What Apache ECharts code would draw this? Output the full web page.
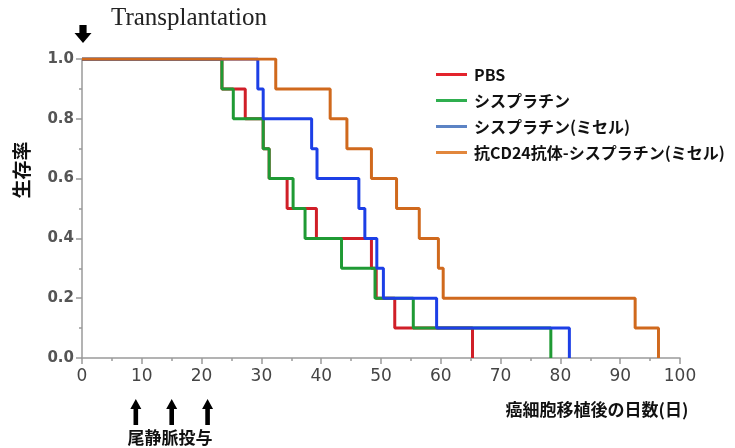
<!DOCTYPE html>
<html>
<head>
<meta charset="utf-8">
<script src="https://cdn.jsdelivr.net/npm/echarts@6/dist/echarts.min.js"></script>
<style>
html, body { margin: 0; padding: 0; background: #fff; }
#chart { width: 735px; height: 448px; }
</style>
</head>
<body>
<div id="chart"></div>
<script>
// Kaplan-Meier steps: [day, survival]
const seriesNames = ['PBS', 'シスプラチン', 'シスプラチン(ミセル)', '抗CD24抗体-シスプラチン(ミセル)'];
const pbsData = [[0, 1], [23.4, 0.9], [27.3, 0.8], [30.3, 0.7], [31.3, 0.6], [34.3, 0.5], [39.2, 0.4], [48.4, 0.3], [49.2, 0.2], [52.3, 0.1], [65.3, 0]];
const cisData = [[0, 1], [23.4, 0.9], [25.3, 0.8], [30.3, 0.7], [31.3, 0.6], [35.3, 0.5], [37.3, 0.4], [43.4, 0.3], [49.0, 0.2], [55.4, 0.1], [78.4, 0]];
const micelleData = [[0, 1], [29.4, 0.9], [30.3, 0.8], [38.4, 0.7], [39.3, 0.6], [46.3, 0.5], [47.3, 0.4], [49.3, 0.3], [50.4, 0.2], [59.3, 0.1], [81.5, 0]];
const cd24Data = [[0, 1], [32.4, 0.9], [41.5, 0.8], [44.3, 0.7], [48.4, 0.6], [52.6, 0.5], [56.4, 0.4], [59.6, 0.3], [60.4, 0.2], [92.5, 0.1], [96.4, 0]];

const lineColors = ['#d01f28', '#1f9a34', '#1c3fe6', '#d0691d'];
const legendColors = ['#e3232c', '#2fae4f', '#5c83c4', '#e2873c'];

const transplantDay = 0;
const injectionDays = [9, 15, 21];

const cjkFont = '"Noto Sans CJK JP", sans-serif';

let chartDom = document.getElementById('chart');
let myChart = echarts.init(chartDom);

let allData = [pbsData, cisData, micelleData, cd24Data];
let series = [];
for (let i = 0; i < seriesNames.length; i++) {
    series.push({
        name: seriesNames[i],
        type: 'line',
        step: 'end',
        data: allData[i],
        showSymbol: false,
        symbol: 'none',
        lineStyle: { width: 3, color: lineColors[i] },
        itemStyle: { color: lineColors[i] }
    });
}

let option = {
    animation: false,
    grid: { left: 82, right: 55, top: 59, bottom: 90 },
    legend: {
        orient: 'vertical',
        left: 431,
        top: 60,
        icon: 'rect',
        itemWidth: 31,
        itemHeight: 3,
        itemGap: 7,
        textStyle: {
            fontFamily: cjkFont,
            fontWeight: 'bold',
            fontSize: 16,
            lineHeight: 19,
            color: '#111',
            padding: [0, 0, 0, 2]
        },
        data: seriesNames.map((n, i) => ({ name: n, itemStyle: { color: legendColors[i] } }))
    },
    xAxis: {
        type: 'value',
        min: 0,
        max: 100,
        interval: 10,
        splitLine: { show: false },
        axisLine: { lineStyle: { color: '#9a9a9a', width: 1.5 } },
        axisTick: { length: 6, lineStyle: { color: '#9a9a9a', width: 1.5 } },
        minorTick: { show: true, splitNumber: 2, length: 3, lineStyle: { color: '#9a9a9a', width: 1.5 } },
        axisLabel: { fontFamily: 'DejaVu Sans', fontSize: 17, color: '#444', margin: 10 }
    },
    yAxis: {
        type: 'value',
        min: 0,
        max: 1,
        interval: 0.2,
        splitLine: { show: false },
        axisLine: { show: true, lineStyle: { color: '#9a9a9a', width: 1.5 } },
        axisTick: { show: true, length: 6, lineStyle: { color: '#9a9a9a', width: 1.5 } },
        minorTick: { show: true, splitNumber: 2, length: 3, lineStyle: { color: '#9a9a9a', width: 1.5 } },
        axisLabel: {
            fontFamily: 'DejaVu Sans',
            fontWeight: 'bold',
            fontSize: 15,
            color: '#555',
            margin: 8,
            formatter: v => v.toFixed(1)
        }
    },
    series
};

option && myChart.setOption(option);

// annotations (arrows and texts) placed from axis values
function downArrow(cx, top) {
    return [[cx - 3.6, top], [cx + 3.6, top], [cx + 3.6, top + 8], [cx + 8.5, top + 8],
            [cx, top + 18], [cx - 8.5, top + 8], [cx - 3.6, top + 8]];
}
function upArrow(cx, top) {
    return [[cx, top], [cx + 5.5, top + 10], [cx + 2.3, top + 10], [cx + 2.3, top + 26],
            [cx - 2.3, top + 26], [cx - 2.3, top + 10], [cx - 5.5, top + 10]];
}

let graphics = [];
let tx = myChart.convertToPixel({ xAxisIndex: 0 }, transplantDay);
graphics.push({ type: 'polygon', shape: { points: downArrow(tx + 1, 25) }, style: { fill: '#000' } });
graphics.push({
    type: 'text', left: 111, top: 6,
    style: { text: 'Transplantation', font: '25px "Liberation Serif", serif', fill: '#222' }
});
injectionDays.forEach(d => {
    let px = myChart.convertToPixel({ xAxisIndex: 0 }, d);
    graphics.push({ type: 'polygon', shape: { points: upArrow(px, 399) }, style: { fill: '#000' } });
});
graphics.push({
    type: 'text', x: 170, y: 438,
    style: { text: '尾静脈投与', font: 'bold 17px ' + cjkFont, fill: '#111', align: 'center', verticalAlign: 'middle' }
});
graphics.push({
    type: 'text', x: 597, y: 410,
    style: { text: '癌細胞移植後の日数(日)', font: 'bold 17px ' + cjkFont, fill: '#111', align: 'center', verticalAlign: 'middle' }
});
graphics.push({
    type: 'text', x: 22, y: 170, rotation: Math.PI / 2,
    style: { text: '生存率', font: 'bold 19px ' + cjkFont, fill: '#111', align: 'center', verticalAlign: 'middle' }
});

myChart.setOption({ graphic: graphics });
</script>
</body>
</html>
